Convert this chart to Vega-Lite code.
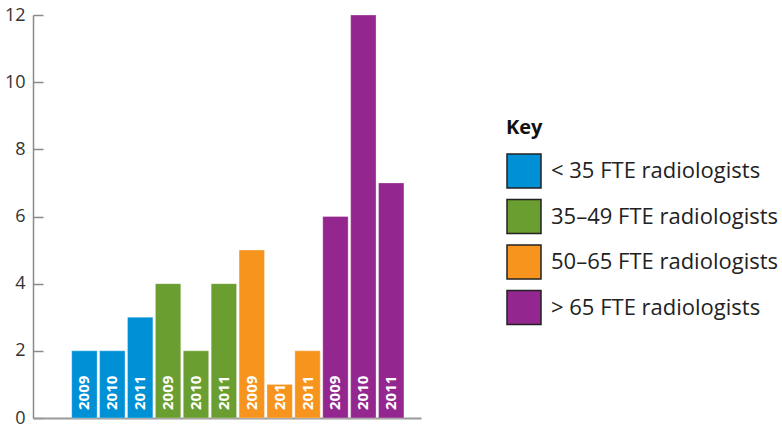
{
  "$schema": "https://vega.github.io/schema/vega-lite/v6.json",
  "autosize": "none",
  "width": 388,
  "height": 403,
  "padding": {"left": 33, "top": 15, "right": 361, "bottom": 9},
  "config": {"view": {"stroke": null}},
  "data": {
    "values": [
      {"id": "a1", "year": "2009", "group": "< 35 FTE radiologists", "count": 2},
      {"id": "a2", "year": "2010", "group": "< 35 FTE radiologists", "count": 2},
      {"id": "a3", "year": "2011", "group": "< 35 FTE radiologists", "count": 3},
      {"id": "b1", "year": "2009", "group": "35–49 FTE radiologists", "count": 4},
      {"id": "b2", "year": "2010", "group": "35–49 FTE radiologists", "count": 2},
      {"id": "b3", "year": "2011", "group": "35–49 FTE radiologists", "count": 4},
      {"id": "c1", "year": "2009", "group": "50–65 FTE radiologists", "count": 5},
      {"id": "c2", "year": "2010", "group": "50–65 FTE radiologists", "count": 1},
      {"id": "c3", "year": "2011", "group": "50–65 FTE radiologists", "count": 2},
      {"id": "d1", "year": "2009", "group": "> 65 FTE radiologists", "count": 6},
      {"id": "d2", "year": "2010", "group": "> 65 FTE radiologists", "count": 12},
      {"id": "d3", "year": "2011", "group": "> 65 FTE radiologists", "count": 7}
    ]
  },
  "encoding": {
    "x": {
      "field": "id",
      "type": "nominal",
      "sort": null,
      "scale": {"paddingInner": 0.09, "paddingOuter": 1.1, "align": 0.694},
      "axis": {
        "title": null,
        "labels": false,
        "ticks": false,
        "grid": false,
        "domainColor": "#9a9a9a",
        "domainWidth": 2
      }
    }
  },
  "layer": [
    {
      "mark": {"type": "bar", "stroke": "#ffffff", "strokeOpacity": 0.3, "strokeWidth": 1},
      "encoding": {
        "y": {
          "field": "count",
          "type": "quantitative",
          "scale": {"domain": [0, 12], "nice": false},
          "axis": {
            "title": null,
            "values": [0, 2, 4, 6, 8, 10, 12],
            "grid": true,
            "gridColor": "#8a8a8a",
            "gridWidth": 1.5,
            "gridDash": [10, 1000],
            "gridOpacity": 1,
            "domainColor": "#8a8a8a",
            "domainWidth": 1.5,
            "ticks": false,
            "labelPadding": 8,
            "labelFont": "Open Sans",
            "labelFontSize": 18,
            "labelColor": "#333333"
          }
        },
        "color": {
          "field": "group",
          "type": "nominal",
          "sort": null,
          "scale": {
            "domain": ["< 35 FTE radiologists", "35–49 FTE radiologists", "50–65 FTE radiologists", "> 65 FTE radiologists"],
            "range": ["#0090d6", "#6b9e30", "#f7941e", "#93278f"]
          },
          "legend": {
            "title": "Key",
            "orient": "none",
            "legendX": 473,
            "legendY": 103,
            "titleFont": "Open Sans",
            "titleFontSize": 20,
            "titleFontWeight": "bold",
            "titleColor": "#111111",
            "titlePadding": 15,
            "symbolType": "square",
            "symbolSize": 1156,
            "symbolStrokeColor": "#222222",
            "symbolStrokeWidth": 1.5,
            "symbolOpacity": 1,
            "labelFont": "Open Sans",
            "labelFontSize": 22,
            "labelColor": "#222222",
            "labelOffset": 9,
            "labelLimit": 400,
            "rowPadding": 5.5
          }
        }
      }
    },
    {
      "mark": {
        "type": "text",
        "angle": 270,
        "align": "left",
        "baseline": "middle",
        "dx": 8,
        "color": "#ffffff",
        "font": "Open Sans",
        "fontWeight": "bold",
        "fontSize": 15
      },
      "encoding": {
        "y": {
          "datum": 0,
          "type": "quantitative",
          "axis": {
            "title": null,
            "values": [0, 2, 4, 6, 8, 10, 12],
            "grid": true,
            "gridColor": "#8a8a8a",
            "gridWidth": 1.5,
            "gridDash": [10, 1000],
            "gridOpacity": 1,
            "domainColor": "#8a8a8a",
            "domainWidth": 1.5,
            "ticks": false,
            "labelPadding": 8,
            "labelFont": "Open Sans",
            "labelFontSize": 18,
            "labelColor": "#333333"
          }
        },
        "text": {"field": "year", "type": "nominal"}
      }
    }
  ]
}
